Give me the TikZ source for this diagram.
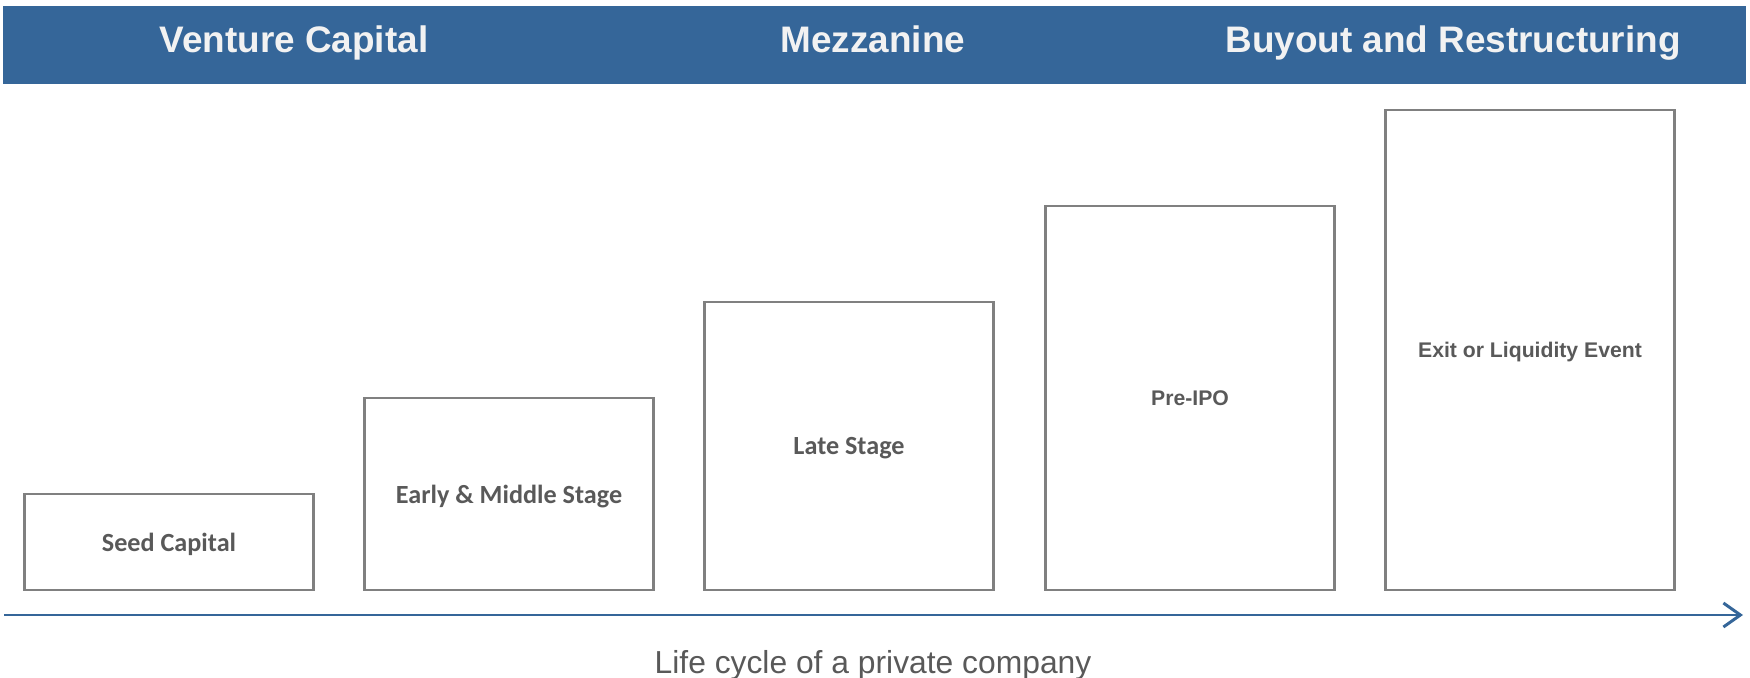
\documentclass[tikz,border=0pt]{standalone}
\usepackage{fontspec}
\setmainfont{Liberation Sans}
\newfontfamily\calibfont{Carlito}
\usetikzlibrary{arrows.meta}

\definecolor{bandblue}{RGB}{53,102,153}
\definecolor{boxgray}{RGB}{128,128,128}
\definecolor{textgray}{RGB}{89,89,89}
\definecolor{headwhite}{RGB}{242,242,242}

\begin{document}
\begin{tikzpicture}[x=0.1mm,y=-0.1mm]

      \useasboundingbox (0,0) rectangle (1750,678);
      \fill[bandblue] (3,6) rectangle (1746,84);

      \begin{scope}[every node/.style={anchor=base,text=headwhite,font=\bfseries\fontsize{10.5}{12}\selectfont}]
        \node (vc)     at (294,53)  {Venture Capital};
        \node (mezz)   at (873,53)  {Mezzanine};
        \node (buyout) at (1453,53) {Buyout and Restructuring};
      \end{scope}

      \begin{scope}[every node/.style={rectangle,draw=boxgray,line width=0.65pt,minimum width=28.9mm,inner sep=0pt,text depth=0pt,text=textgray}]

        \begin{scope}[every node/.append style={font=\calibfont\bfseries\fontsize{7.45}{9}\selectfont}]
          \node[minimum height=9.6mm]  (1) at (169,542)  {Seed Capital};
          \node[minimum height=19.2mm] (2) at (509,494)  {Early \& Middle Stage};
          \node[minimum height=28.8mm] (3) at (849,446)  {Late Stage};
        \end{scope}

        \begin{scope}[every node/.append style={font=\bfseries\fontsize{6.03}{8}\selectfont}]
          \node[minimum height=38.4mm] (4) at (1190,398) {Pre-IPO};
          \node[minimum height=48mm]   (5) at (1530,350) {Exit or Liquidity Event};
        \end{scope}

      \end{scope}

      \coordinate (t0) at (4,615);
      \coordinate (t1) at (1743,615);
      \path (t0) edge[draw=bandblue,line width=0.85pt,-{Straight Barb[length=1.7mm,width=2.4mm]}] (t1);

      \node[anchor=base,text=textgray,font=\fontsize{9.05}{11}\selectfont] (cycle) at (873,673) {Life cycle of a private company};

    \end{tikzpicture}
\end{document}
